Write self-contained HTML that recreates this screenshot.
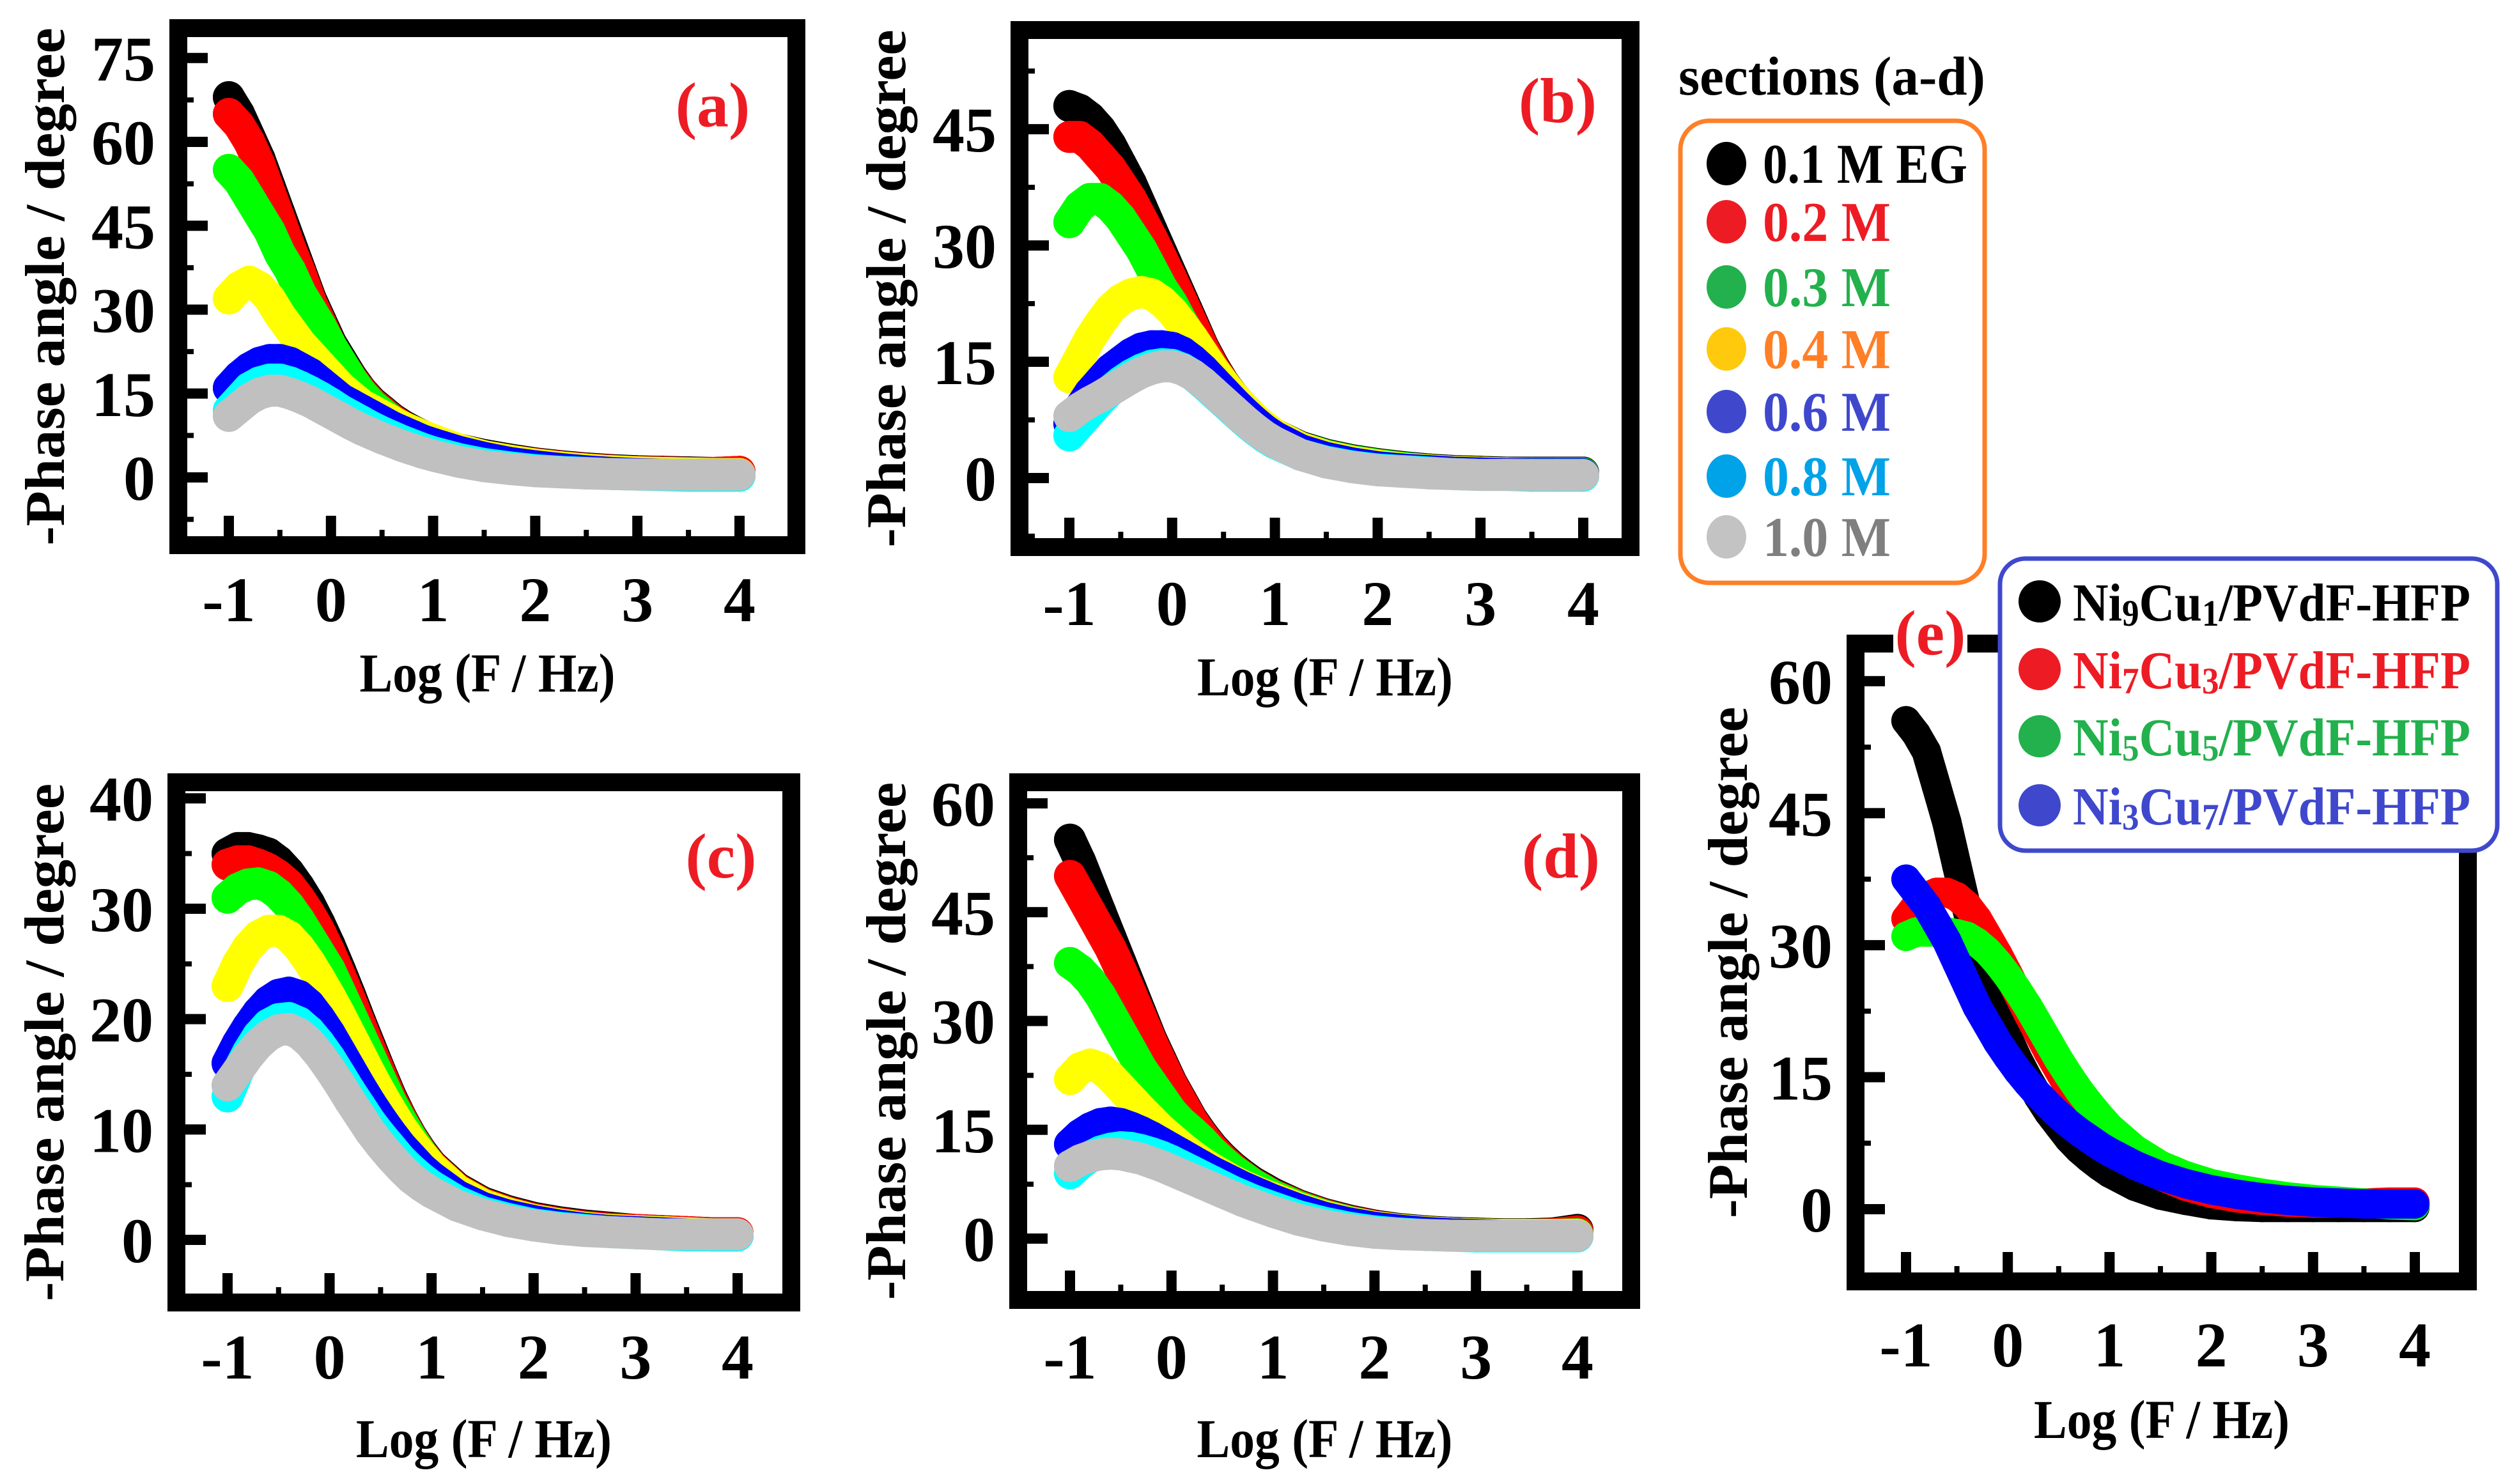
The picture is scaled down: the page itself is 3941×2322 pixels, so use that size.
<!DOCTYPE html>
<html><head><meta charset="utf-8">
<style>
html,body{margin:0;padding:0;background:#fff;}
svg{display:block;font-family:"Liberation Serif",serif;font-weight:bold;}
</style></head>
<body>
<svg id="fig" width="3941" height="2322" viewBox="0 0 3941 2322" xmlns="http://www.w3.org/2000/svg"></svg>
<script>
// shared x values: log frequency
const logF = [-1,-0.9,-0.8,-0.7,-0.6,-0.5,-0.4,-0.3,-0.2,-0.1,0,0.1,0.2,0.3,0.4,0.5,0.6,0.7,0.8,0.9,1,1.25,1.5,1.75,2,2.25,2.5,2.75,3,3.25,3.5,3.75,4];
const xTickLabels = ["-1","0","1","2","3","4"];
const seriesNamesAD = ["0.1 M EG","0.2 M","0.3 M","0.4 M","0.6 M","0.8 M","1.0 M"];
const seriesNamesE = ["Ni9Cu1/PVdF-HFP","Ni7Cu3/PVdF-HFP","Ni5Cu5/PVdF-HFP","Ni3Cu7/PVdF-HFP"];
const yTicksA = [0,15,30,45,60,75];
const yTicksB = [0,15,30,45];
const yTicksC = [0,10,20,30,40];
const yTicksD = [0,15,30,45,60];
const yTicksE = [0,15,30,45,60];

// panel (a)
const a_black = [68,65,61,57,52,47,42,37,32,28,24,21,18,15.5,13.5,12,10.5,9.3,8.3,7.4,6.6,5,4,3.2,2.5,2,1.6,1.3,1.1,1,0.9,0.8,1];
const a_red = [65,63,60,56,51,46,41,36.5,31.5,27.5,23.5,20.5,17.7,15.3,13.3,11.8,10.3,9.1,8.1,7.2,6.4,4.8,3.8,3,2.4,1.9,1.5,1.2,1,0.9,0.8,0.8,1];
const a_green = [55,53,50,47,44,40,37,33,30,27,23.5,20.5,17.5,15,13,11.5,10,8.9,7.9,7,6.3,4.7,3.7,2.9,2.3,1.8,1.4,1.1,0.9,0.8,0.7,0.6,0.6];
const a_yellow = [32,34,35,34,32,29,26.5,24,22,20,18,16,14.5,13,12,11,10,9,8.2,7.4,6.7,5,3.8,3,2.3,1.8,1.4,1.1,0.9,0.8,0.7,0.6,0.6];
const a_blue = [16,18,19.5,20.5,21,21,20.5,19.5,18.5,17,15.5,14,13,12,11,10,9,8.2,7.4,6.6,6,4.6,3.5,2.6,2,1.5,1.1,0.8,0.6,0.5,0.4,0.4,0.4];
const a_cyan = [12,14,16,17,17.5,17.5,17,16.2,15.3,14.3,13.2,12,11,10,9,8.1,7.3,6.5,5.8,5.1,4.5,3.3,2.4,1.8,1.3,1,0.8,0.6,0.5,0.4,0.3,0.3,0.3];
const a_gray = [11,12.5,14,15,15.5,15.5,15,14.3,13.5,12.5,11.5,10.5,9.5,8.6,7.8,7,6.3,5.6,5,4.4,3.9,2.8,2,1.5,1.1,0.9,0.7,0.6,0.5,0.5,0.5,0.5,0.5];
// panel (b)
const b_black = [48,47.5,46.5,45,43,40.5,38,35,32,29,26,23,20,17,14.5,12.3,10.5,9,7.7,6.5,5.6,4,3,2.3,1.8,1.4,1.1,0.9,0.8,0.7,0.7,0.7,0.7];
const b_red = [44,44,43,41.5,40,38,36,33.5,31,28.3,25.5,22.6,19.7,16.8,14.3,12.2,10.4,8.9,7.6,6.4,5.5,3.9,2.9,2.2,1.7,1.3,1,0.8,0.7,0.6,0.6,0.6,0.6];
const b_green = [33,35,36,36,35,33.5,31.5,29.5,27,24.5,22.5,20,17.8,15.6,13.6,11.8,10.2,8.8,7.5,6.4,5.5,3.9,2.9,2.2,1.7,1.3,1,0.8,0.7,0.6,0.6,0.6,0.6];
const b_yellow = [13,15.5,18,20,21.8,23,23.7,24,23.7,22.8,21.5,19.8,18,16,14,12.2,10.5,9,7.7,6.6,5.6,3.9,2.8,2.1,1.6,1.2,1,0.8,0.7,0.6,0.5,0.5,0.5];
const b_blue = [7,9,11,12.5,14,15,16,16.7,17,17,16.8,16.2,15.2,14,12.6,11.2,9.8,8.5,7.3,6.2,5.3,3.6,2.6,1.9,1.4,1.1,0.9,0.7,0.6,0.5,0.5,0.5,0.5];
const b_cyan = [5.5,7,8.5,10,11.3,12.4,13.3,14,14.5,14.7,14.6,14.1,13.3,12.2,11,9.8,8.6,7.4,6.3,5.3,4.5,3,2.1,1.5,1.1,0.9,0.7,0.5,0.4,0.4,0.3,0.3,0.3];
const b_gray = [8,9,9.8,10.5,11.3,12.1,12.9,13.6,14.1,14.4,14.4,14,13.3,12.3,11.1,9.9,8.7,7.5,6.4,5.4,4.6,3,2,1.4,1,0.8,0.6,0.5,0.4,0.4,0.4,0.4,0.4];
// panel (c)
const c_black = [35,35.5,35.5,35.3,35,34.3,33.3,32,30.5,28.7,26.7,24.5,22.2,19.8,17.5,15.2,13,11.1,9.4,8,6.8,4.7,3.4,2.6,2,1.6,1.3,1.1,0.9,0.8,0.7,0.6,0.6];
const c_red = [34,34.3,34.3,34,33.6,33,32.2,31,29.6,28,26.1,24,21.8,19.5,17.2,15,12.8,11,9.3,7.9,6.7,4.6,3.3,2.5,1.9,1.5,1.2,1,0.9,0.8,0.7,0.6,0.6];
const c_green = [31,31.8,32.2,32.3,32,31.3,30.3,29,27.5,26,24.5,22.5,20.5,18.5,16.5,14.5,12.5,10.8,9.2,7.8,6.6,4.5,3.2,2.4,1.8,1.4,1.1,0.9,0.8,0.7,0.6,0.5,0.5];
const c_yellow = [23,25,26.5,27.5,28,28,27.5,26.5,25.2,23.7,22.1,20.4,18.6,16.8,15,13.3,11.7,10.2,8.9,7.7,6.6,4.5,3.2,2.4,1.8,1.4,1.1,0.9,0.8,0.7,0.6,0.5,0.5];
const c_blue = [16,17.8,19.3,20.6,21.6,22.2,22.4,22.1,21.3,20.1,18.7,17.1,15.5,13.9,12.4,11,9.7,8.5,7.5,6.5,5.7,4,2.9,2.2,1.7,1.3,1,0.8,0.7,0.6,0.5,0.4,0.4];
const c_cyan = [13,15.2,17,18.5,19.5,20,20.1,19.7,18.9,17.8,16.5,15,13.5,12.1,10.7,9.5,8.4,7.3,6.4,5.6,4.9,3.5,2.5,1.9,1.4,1.1,0.9,0.7,0.6,0.5,0.4,0.4,0.4];
const c_gray = [14,15.3,16.6,17.7,18.5,19,19.1,18.7,17.9,16.8,15.5,14.1,12.6,11.2,9.8,8.6,7.5,6.5,5.6,4.9,4.3,3.1,2.3,1.7,1.3,1,0.8,0.7,0.6,0.5,0.5,0.5,0.5];
// panel (d)
const d_black = [55,52,48.5,45,41.5,38,34.5,31,27.5,24.5,21.5,19,16.5,14.5,12.7,11.2,9.9,8.8,7.8,7,6.2,4.6,3.4,2.5,1.8,1.3,1,0.8,0.7,0.6,0.6,0.7,1.2];
const d_red = [50,47.5,45,42.5,40,37,33.8,30.5,27.2,24.2,21.3,18.8,16.3,14.3,12.5,11,9.7,8.6,7.6,6.8,6,4.5,3.3,2.4,1.7,1.2,0.9,0.7,0.6,0.5,0.5,0.6,1];
const d_green = [38,37,35.5,33.5,31,28.5,26,23.5,21.5,19.5,17.5,16,14.8,13.5,12,10.7,9.5,8.5,7.5,6.7,5.9,4.4,3.2,2.3,1.6,1.2,0.9,0.7,0.6,0.5,0.5,0.5,0.6];
const d_yellow = [22,23.5,24,23.5,22.3,20.8,19.3,17.8,16.4,15,13.8,12.6,11.5,10.5,9.6,8.8,8,7.3,6.7,6.1,5.6,4.2,3.1,2.2,1.6,1.2,0.9,0.7,0.6,0.5,0.5,0.5,0.5];
const d_blue = [13,14.3,15.2,15.8,16,15.8,15.3,14.7,14,13.2,12.4,11.6,10.8,10,9.2,8.5,7.8,7.1,6.5,5.9,5.3,4,2.9,2.1,1.5,1.1,0.8,0.6,0.5,0.4,0.4,0.4,0.4];
const d_cyan = [9,10.3,11.3,12,12.4,12.6,12.5,12.2,11.8,11.3,10.7,10,9.3,8.6,7.9,7.2,6.5,5.9,5.3,4.8,4.3,3.1,2.2,1.5,1,0.7,0.5,0.4,0.3,0.3,0.3,0.3,0.3];
const d_gray = [10,10.8,11.3,11.6,11.7,11.6,11.3,11,10.5,10,9.4,8.8,8.2,7.6,7,6.4,5.8,5.2,4.7,4.2,3.7,2.6,1.8,1.2,0.8,0.6,0.5,0.4,0.4,0.4,0.4,0.4,0.4];
// panel (e)
const e_black = [55.5,54,52,48,44,39,34,29.5,25.5,22.5,19.5,17,14.8,12.8,11,9.5,8,6.8,5.8,4.9,4.1,2.6,1.6,1,0.5,0.3,0.2,0.2,0.2,0.2,0.2,0.2,0.2];
const e_red = [33,34.5,35.5,36,36,35.5,34.5,33,31,29,26.8,24.5,22.2,20,17.8,15.8,13.8,12,10.4,9,7.8,5.5,3.8,2.6,1.8,1.3,1,0.8,0.7,0.7,0.7,0.8,0.8];
const e_green = [31,31.5,31.5,31.5,31.5,31.3,31,30.3,29.3,28,26.5,24.8,23,21,19,17,15.2,13.5,12,10.6,9.3,6.8,5,3.8,2.9,2.3,1.8,1.4,1.1,0.9,0.7,0.5,0.4];
const e_blue = [37.5,36,34.5,32.5,30.5,28,25.5,23,21,19,17.3,15.7,14.3,13,11.8,10.7,9.7,8.8,8,7.2,6.5,5,3.8,2.9,2.2,1.7,1.3,1,0.8,0.7,0.6,0.6,0.6];

const NS = "http://www.w3.org/2000/svg";
const svg = document.getElementById("fig");
function mk(tag, attrs, parent){
  const el = document.createElementNS(NS, tag);
  for (const k in attrs) el.setAttribute(k, attrs[k]);
  (parent||svg).appendChild(el);
  return el;
}
const colsAD = ["#000000","#ff0000","#00ff00","#ffff00","#0000ff","#00ffff","#c0c0c0"];
const colsE = ["#000000","#ff0000","#00ff00","#0000ff"];

function panel(cfg){
  const g = mk("g", {});
  
  
  const [L,T,R,B] = cfg.frame;
  const bw = 28;
  const iL=L+bw, iT=T+bw, iR=R-bw, iB=B-bw;
  const xs = v => cfg.x0 + (v+1)*(cfg.x4-cfg.x0)/5;
  const ys = v => cfg.y0 - v*cfg.ppd;
  const cid = "clip-"+cfg.id;
  const defs = mk("defs", {}, g);
  const cp = mk("clipPath", {id:cid}, defs);
  mk("rect", {x:iL, y:iT, width:iR-iL, height:iB-iT}, cp);
  const pg = mk("g", {"clip-path":"url(#"+cid+")"}, g);
  
  
  cfg.series.forEach((s, si) => {
    const sg = mk("g", {}, pg);
    
    
    const pts = logF.map((x,i)=> xs(x).toFixed(1)+","+ys(s[i]).toFixed(1)).join(" ");
    const pl = mk("polyline", {points:pts, fill:"none", stroke:cfg.colors[si], "stroke-width":2*cfg.r, "stroke-linecap":"round", "stroke-linejoin":"round"}, sg);
    
    
    logF.forEach((x,i)=>{
      const c = mk("circle", {cx:xs(x), cy:ys(s[i]), r:cfg.r, fill:cfg.colors[si]}, sg);
      
      
    });
  });
  const fr = mk("rect", {x:L+bw/2, y:T+bw/2, width:R-L-bw, height:B-T-bw, fill:"none", stroke:"#000", "stroke-width":bw}, g);
  
  
  xTickLabels.forEach((lab, i) => {
    const v = i-1, px = xs(v);
    mk("rect", {x:px-8, y:iB-32, width:16, height:32, fill:"#000"}, g);
    if (i<5) mk("rect", {x:xs(v+0.5)-4, y:iB-10, width:8, height:10, fill:"#000"}, g);
    const t = mk("text", {x:px, y:cfg.xLabY, "font-size":100, "text-anchor":"middle", fill:"#000"}, g);
    t.textContent = lab;
    
    
  });
  cfg.yTicks.forEach((v, i) => {
    const py = ys(v);
    mk("rect", {x:iL, y:py-8, width:32, height:16, fill:"#000"}, g);
    const t = mk("text", {x:L-22, y:py+35, "font-size":100, "text-anchor":"end", fill:"#000"}, g);
    t.textContent = String(v);
    
    
  });
  const step = cfg.yTicks[1]-cfg.yTicks[0];
  for (let v = -step/2; ys(v) > iT; v += step){
    if (ys(v) < iB) mk("rect", {x:iL, y:ys(v)-4, width:10, height:8, fill:"#000"}, g);
  }
  const xt = mk("text", {x:(iL+iR)/2, y:cfg.xTitleY, "font-size":86, "text-anchor":"middle", fill:"#000", textLength:400, lengthAdjust:"spacingAndGlyphs"}, g);
  xt.textContent = "Log (F / Hz)";
  
  
  const cy = (T+B)/2;
  const yt = mk("text", {x:cfg.yTitleX, y:cy, "font-size":88, "text-anchor":"middle", fill:"#000", textLength:cfg.yTitleLen, lengthAdjust:"spacingAndGlyphs", transform:"rotate(-90 "+cfg.yTitleX+" "+cy+") translate(0 30)"}, g);
  yt.textContent = "-Phase angle / degree";
  
  
  if (cfg.labBg) { mk("rect", {x:cfg.lab[0]-58, y:cfg.lab[1]-60, width:116, height:110, fill:"#fff"}, g); }
  const pl = mk("text", {x:cfg.lab[0], y:cfg.lab[1]+33, "font-size":100, "text-anchor":"middle", fill:"#ed1c24"}, g);
  pl.textContent = "("+cfg.id+")";
  
  
}

panel({id:"a", frame:[265,30,1260,867], x0:358, x4:1157, y0:747, ppd:8.75, yTicks:yTicksA, r:25,
  series:[a_black,a_red,a_green,a_yellow,a_blue,a_cyan,a_gray], colors:colsAD,
  xLabY:972, xTitleY:1082, yTitleX:70, yTitleLen:810, lab:[1115,165]});
panel({id:"b", frame:[1581,33,2565,870], x0:1673, x4:2477, y0:748, ppd:12.13, yTicks:yTicksB, r:25,
  series:[b_black,b_red,b_green,b_yellow,b_blue,b_cyan,b_gray], colors:colsAD,
  xLabY:978, xTitleY:1088, yTitleX:1386, yTitleLen:810, lab:[2437,158]});
panel({id:"c", frame:[262,1210,1252,2052], x0:356, x4:1154, y0:1940, ppd:17.27, yTicks:yTicksC, r:25,
  series:[c_black,c_red,c_green,c_yellow,c_blue,c_cyan,c_gray], colors:colsAD,
  xLabY:2157, xTitleY:2280, yTitleX:69, yTitleLen:810, lab:[1128,1340]});
panel({id:"d", frame:[1579,1210,2566,2048], x0:1674, x4:2468, y0:1938, ppd:11.35, yTicks:yTicksD, r:25,
  series:[d_black,d_red,d_green,d_yellow,d_blue,d_cyan,d_gray], colors:colsAD,
  xLabY:2157, xTitleY:2280, yTitleX:1386, yTitleLen:810, lab:[2442,1340]});
panel({id:"e", frame:[2889,993,3875,2019], x0:2982, x4:3778, y0:1892, ppd:13.77, yTicks:yTicksE, r:23,
  series:[e_black,e_red,e_green,e_blue], colors:colsE,
  xLabY:2138, xTitleY:2250, yTitleX:2703, yTitleLen:800, lab:[3020,991], labBg:true});

// legend for sections (a-d)
const lgA = mk("g", {});


const lt = mk("text", {x:2626, y:148, "font-size":86, fill:"#000", textLength:480, lengthAdjust:"spacingAndGlyphs"}, lgA);
lt.textContent = "sections (a-d)";


mk("rect", {x:2629, y:189, width:476, height:723, rx:45, fill:"#fff", stroke:"#ff7f27", "stroke-width":7}, lgA);
const mkA = ["#000000","#ed1c24","#22b14c","#ffc90e","#3f48cc","#00a2e8","#c3c3c3"];
const txA = ["#000000","#ed1c24","#22b14c","#ff7f27","#3f48cc","#00a2e8","#7f7f7f"];
const lyA = [256,347,449,546,644,745,840];
const lenA = [320,200,200,200,200,200,200];
seriesNamesAD.forEach((n,i)=>{
  const e = mk("g", {}, lgA);
  
  
  mk("ellipse", {cx:2701, cy:lyA[i], rx:31, ry:34, fill:mkA[i]}, e);
  const t = mk("text", {x:2758, y:lyA[i]+30, "font-size":88, fill:txA[i], textLength:lenA[i], lengthAdjust:"spacingAndGlyphs"}, e);
  t.textContent = n;
});

// legend for panel (e)
const lgE = mk("g", {});


mk("rect", {x:3129, y:874, width:778, height:457, rx:40, fill:"#fff", stroke:"#3f48cc", "stroke-width":7}, lgE);
const mkE = ["#000000","#ed1c24","#22b14c","#3f48cc"];
const lyE = [941,1047,1152,1260];
const subs = [["9","1"],["7","3"],["5","5"],["3","7"]];
seriesNamesE.forEach((n,i)=>{
  const e = mk("g", {}, lgE);
  
  
  mk("circle", {cx:3191, cy:lyE[i], r:33, fill:mkE[i]}, e);
  const t = mk("text", {x:3243, y:lyE[i]+30, "font-size":84, fill:mkE[i], textLength:622, lengthAdjust:"spacingAndGlyphs"}, e);
  t.appendChild(document.createTextNode("Ni"));
  const s1 = mk("tspan", {"font-size":58, dy:8}, t); s1.textContent = subs[i][0];
  const s2 = mk("tspan", {dy:-8}, t); s2.textContent = "Cu";
  const s3 = mk("tspan", {"font-size":58, dy:8}, t); s3.textContent = subs[i][1];
  const s4 = mk("tspan", {dy:-8}, t); s4.textContent = "/PVdF-HFP";
});
</script>
</body></html>
